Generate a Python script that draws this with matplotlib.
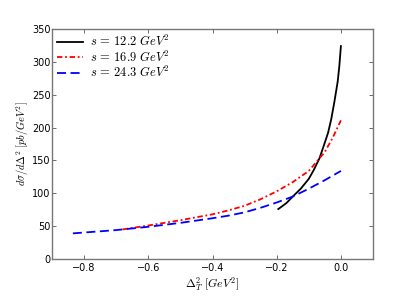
import matplotlib
matplotlib.use("Agg")
import matplotlib.pyplot as plt

plt.rcParams['mathtext.fontset'] = 'cm'
plt.rcParams['font.family'] = ['DejaVu Sans']

x_black = [-0.195, -0.17, -0.15, -0.125, -0.1, -0.085, -0.067, -0.055, -0.04, -0.03, -0.02, -0.01, -0.005, 0.0]
y_black = [76, 85, 95, 107, 122, 135, 153, 170, 192, 213, 240, 270, 293, 324]

x_red = [-0.68, -0.6, -0.5, -0.4, -0.35, -0.3, -0.25, -0.2, -0.15, -0.1, -0.067, -0.05, -0.025, 0.0]
y_red = [45, 51, 59, 68, 74, 81, 91, 103, 117, 134, 153, 163, 185, 211]

x_blue = [-0.835, -0.7, -0.6, -0.5, -0.4, -0.35, -0.3, -0.25, -0.2, -0.15, -0.1, -0.05, 0.0]
y_blue = [39, 44, 49, 55, 62, 66, 71, 78, 86, 95, 107, 120, 134]

labels = [r'$s\,=\,12.2\ GeV^2$', r'$s\,=\,16.9\ GeV^2$', r'$s\,=\,24.3\ GeV^2$']
xticks = [-0.8, -0.6, -0.4, -0.2, 0.0]
yticks = [0, 50, 100, 150, 200, 250, 300, 350]

fig = plt.figure(figsize=(4.15, 2.97), dpi=100)
ax = fig.add_axes([52/415, 38/297, 321/415, 230/297])

ax.plot(x_black, y_black, color='black', lw=1.3, label=labels[0])
ax.plot(x_red, y_red, color='red', lw=1.3, ls=(0, (3, 1.5, 1, 1.5)), label=labels[1])
ax.plot(x_blue, y_blue, color='blue', lw=1.3, ls=(0, (5, 2.5)), label=labels[2])

ax.set_xlim(-0.9, 0.1)
ax.set_ylim(0, 350)
ax.set_xticks(xticks)
ax.set_yticks(yticks)
ax.set_xticklabels([f'{t:.1f}'.replace('-', '\u2212') for t in xticks])
ax.tick_params(direction='in', top=True, right=True, labelsize=7, length=3, width=0.6, color='#555555')
ax.tick_params(axis='y', pad=1)
ax.tick_params(axis='x', pad=3)
for s in ax.spines.values():
    s.set_color('#777777')
    s.set_linewidth(1.0)

ax.set_xlabel(r'$\Delta_T^2\ [GeV^2]$', fontsize=8.5, labelpad=1.5)
ax.set_ylabel(r'$d\sigma/d\Delta^2\ [pb/GeV^2]$', fontsize=7.5, labelpad=0.5)

ax.legend(loc='upper left', frameon=False, fontsize=9, handlelength=2.1,
          borderaxespad=0.1, labelspacing=0.05, handletextpad=0.5, borderpad=0.3)

fig.savefig('out.png', dpi=100)
